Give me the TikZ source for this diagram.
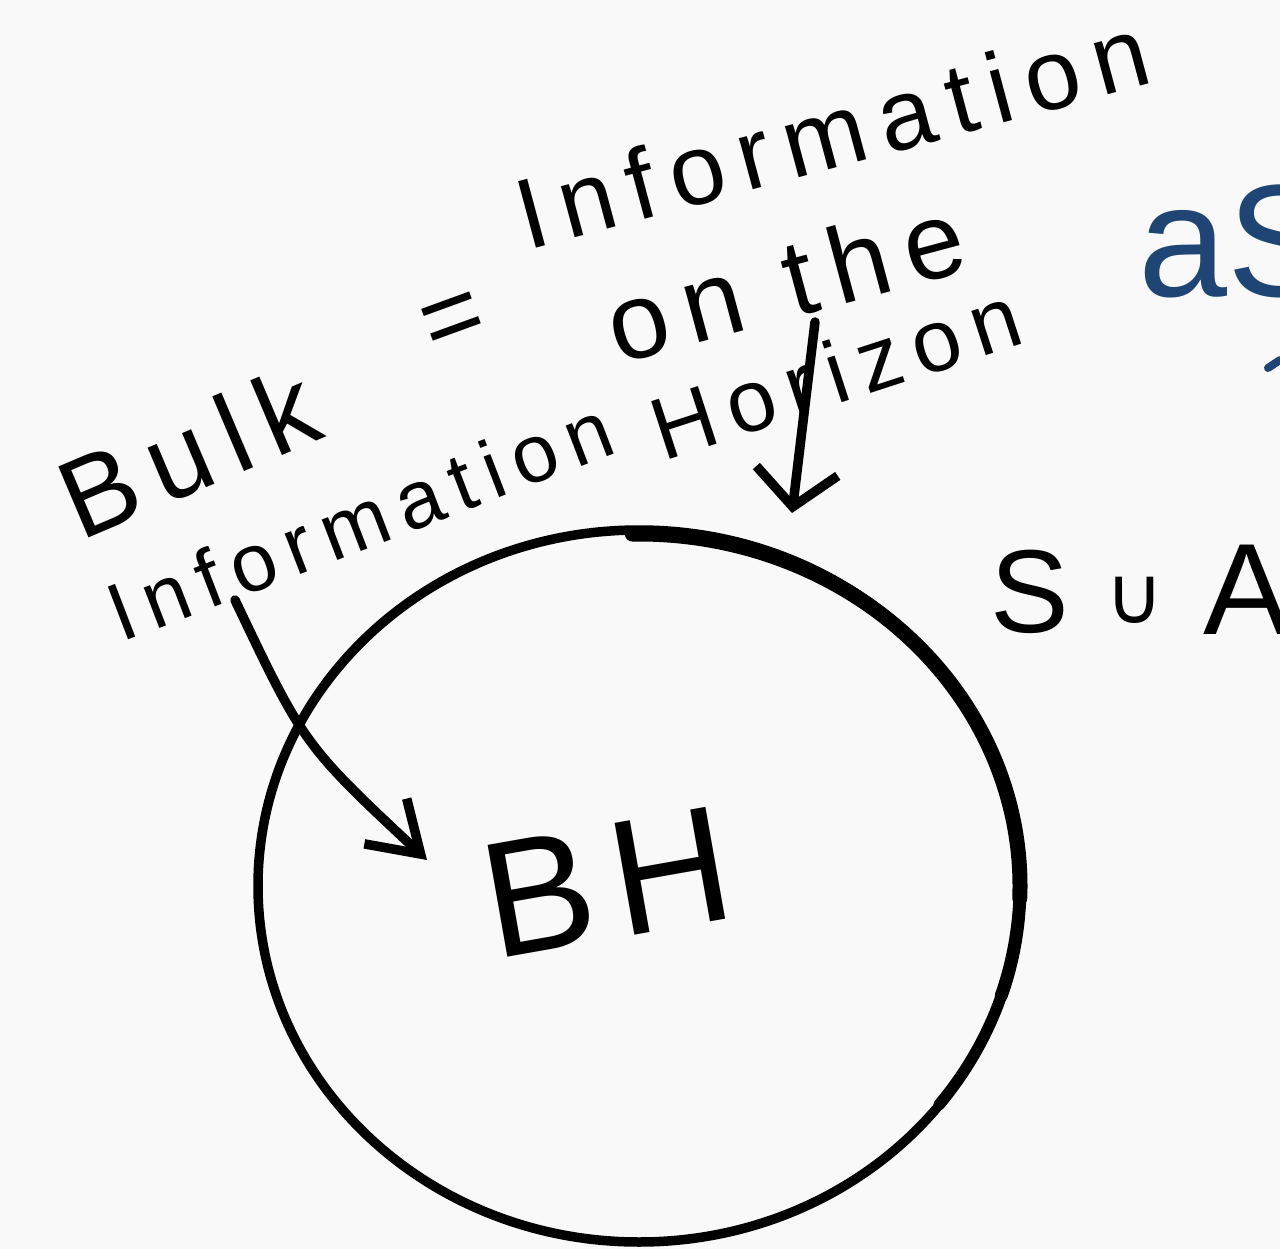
\documentclass[tikz,border=0pt]{standalone}
\usepackage{fontspec}
\setmainfont{Liberation Sans}
\newfontfamily\hand[LetterSpace=15]{Liberation Sans}
\newfontfamily\djv{DejaVu Sans}
\usetikzlibrary{shapes.geometric,arrows.meta}
\definecolor{inkblue}{HTML}{1F4574}
\definecolor{paper}{HTML}{F9F9F9}
\begin{document}
\begin{tikzpicture}[x=1pt,y=-1pt, line cap=round, line join=round,
  hw/.style={inner sep=0pt, text=black},
  ink/.style={line width=9.5pt, draw=black},
  tipA/.style={-{Straight Barb[length=48pt,width=62pt]}},
  tipB/.style={-{Straight Barb[length=36pt,width=82pt]}}]
\fill[paper] (0,0) rectangle (1280,1249);
\clip (0,0) rectangle (1280,1249);
% texts
\node[hw, rotate=23, font={\hand\fontsize{112}{112}\selectfont}] (bulk) at (188,452) {Bulk};
\node[hw, rotate=20, font={\hand\fontsize{105}{105}\selectfont}] (eq) at (455,325) {=};
\node[hw, rotate=15, font={\hand\fontsize{100}{100}\selectfont}] (info1) at (832,132) {Information};
\node[hw, rotate=15, font={\hand\fontsize{108}{108}\selectfont}] (onthe) at (785,280) {on the};
\node[hw, rotate=21, font={\hand\fontsize{82}{82}\selectfont}] (info2) at (360,520) {Information};
\node[hw, rotate=18, font={\hand\fontsize{88}{88}\selectfont}] (hor) at (836,372) {Horizon};
\node[hw, rotate=10, font=\fontsize{165}{165}\selectfont] (bhl) at (607,882) {B\hspace{0.12em}H};
\node[hw, anchor=west, font=\fontsize{118}{118}\selectfont] (sS) at (990,592) {S};
\node[hw, font={\djv\fontsize{80}{80}\selectfont}] (sCup) at (1135,600) {∪};
\node[hw, anchor=west, font=\fontsize{130}{130}\selectfont] (sA) at (1203,590) {A};
\node[hw, anchor=base west, text=inkblue, font=\fontsize{160}{160}\selectfont] (as) at (1138,297) {aS};
\draw[inkblue, line width=8pt] (1268,368) -- (1280,360);
% black hole
\node[ink, draw, ellipse, minimum width=762pt, minimum height=712pt, inner sep=0pt] (bh) at (639,886) {};
\draw[line width=15pt] (bh.center) ++(-91:381 and 352) arc[start angle=-91, end angle=2, x radius=381, y radius=352];
\draw[line width=13pt] (bh.center) ++(-2:381 and 354) arc[start angle=-2, end angle=18, x radius=381, y radius=354];
\draw[line width=11.5pt] (bh.center) ++(14:381 and 355) arc[start angle=14, end angle=38, x radius=381, y radius=355];
% arrows
\coordinate (a1s) at (235,600);
\coordinate (a1e) at (427,860);
\draw[ink, tipA] (a1s) .. controls (304,745) .. (a1e);
\coordinate (a2s) at (815,322);
\coordinate (a2e) at (792,513);
\draw[ink, tipB] (a2s) -- (a2e);
\end{tikzpicture}
\end{document}
